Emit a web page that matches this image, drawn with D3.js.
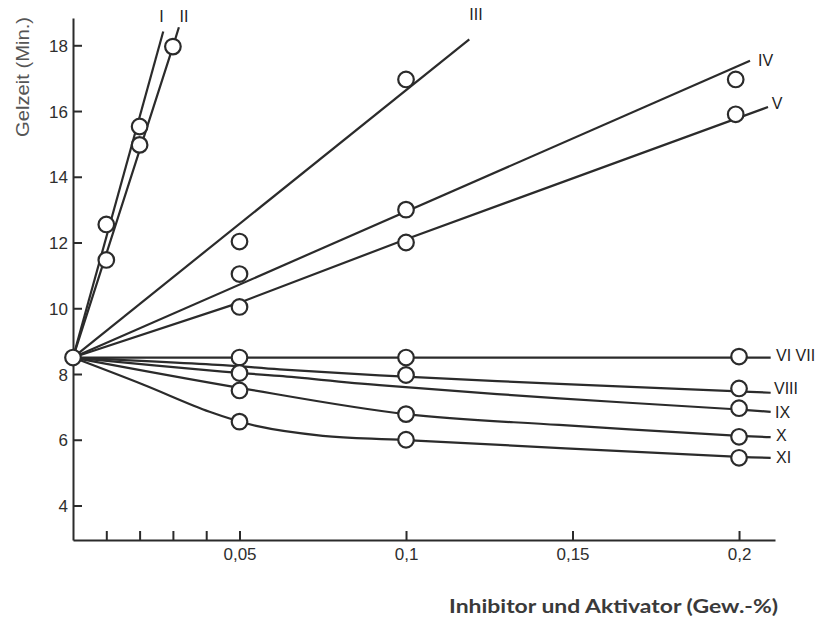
<!DOCTYPE html>
<html>
<head>
<meta charset="utf-8">
<script src="https://cdn.jsdelivr.net/npm/d3@7"></script>
<style>
  html, body { margin: 0; padding: 0; background: #fff; }
  svg { display: block; }
  .tick text { font-family: "Liberation Sans", Arial, sans-serif; font-size: 17px; fill: #2e2e2e; }
  .roman { font-family: "Liberation Sans", Arial, sans-serif; font-size: 16px; fill: #1e1e1e; }
</style>
</head>
<body>
<div id="chart"></div>
<script>
// axis extents (the drawn axis lines run a bit beyond the last ticks)
const xAxisExtent = [0, 0.2108];
const yAxisExtent = [2.95, 18.83];
const xTickValues = [0.01, 0.02, 0.03, 0.04, 0.05, 0.1, 0.15, 0.2];
const xLabelValues = [0.05, 0.1, 0.15, 0.2];
const yTickValues = [4, 6, 8, 10, 12, 14, 16, 18];

// measured gel times (circles)
const points = [
  [0, 8.5],
  [0.01, 12.55], [0.01, 11.47], [0.02, 15.53], [0.02, 14.97], [0.03, 17.96],
  [0.05, 12.03], [0.05, 11.04], [0.05, 10.04], [0.05, 8.5], [0.05, 8.03], [0.05, 7.5], [0.05, 6.55],
  [0.1, 16.96], [0.1, 13.0], [0.1, 12.0], [0.1, 8.5], [0.1, 7.97], [0.1, 6.78], [0.1, 6.0],
  [0.199, 16.96], [0.199, 15.9], [0.2, 8.53], [0.2, 7.56], [0.2, 6.96], [0.2, 6.09], [0.2, 5.45]
];

// drawn curves
const curveI = [[0, 8.5], [0.0271, 18.42]];
const curveII = [[0, 8.5], [0.03, 17.96], [0.0318, 18.55]];
const curveIII = [[0, 8.5], [0.119, 18.18]];
const curveIV = [[0, 8.5], [0.2033, 17.53]];
const curveV = [[0, 8.5], [0.05, 10.17], [0.1, 12.1], [0.2087, 16.12]];
const curveVI = [[0, 8.5], [0.2095, 8.5]];
const curveVIII = [[0, 8.5], [0.045, 8.27], [0.062, 8.14], [0.092, 7.96], [0.146, 7.7], [0.2, 7.47], [0.2095, 7.43]];
const curveIX = [[0, 8.5], [0.045, 8.07], [0.062, 7.94], [0.092, 7.66], [0.146, 7.26], [0.2, 6.92], [0.2095, 6.85]];
const curveX = [[0, 8.5], [0.05, 7.58], [0.1, 6.78], [0.146, 6.45], [0.2, 6.12], [0.2095, 6.08]];
const curveXI = [[0, 8.5], [0.021, 7.68], [0.041, 6.85], [0.055, 6.42], [0.075, 6.12],
                 [0.1, 5.99], [0.2, 5.48], [0.2095, 5.45]];

const straightCurves = [curveI, curveII, curveIII, curveIV, curveV, curveVI];
const bentCurves = [curveVIII, curveIX, curveX, curveXI];

// series labels: text, anchor point, text-anchor
const seriesLabels = [
  ['I', [0.0266, 18.89], 'middle'],
  ['II', [0.0333, 18.89], 'middle'],
  ['III', [0.121, 18.94], 'middle'],
  ['IV', [0.2057, 17.56], 'start'],
  ['V', [0.2098, 16.25], 'start'],
  ['VI VII', [0.2111, 8.58], 'start'],
  ['VIII', [0.2105, 7.57], 'start'],
  ['IX', [0.2108, 6.85], 'start'],
  ['X', [0.2111, 6.14], 'start'],
  ['XI', [0.2111, 5.48], 'start']
];

const width = 831, height = 618;
const ink = '#2b2b2b';

const svg = d3.select('#chart').append('svg')
  .attr('width', width)
  .attr('height', height);

const x = d3.scaleLinear().domain(xAxisExtent).range([73, 775]);
const y = d3.scaleLinear().domain(yAxisExtent).range([540, 18]);

// axes, ticks pointing inward
const xAxis = d3.axisBottom(x)
  .tickValues(xTickValues)
  .tickSize(-9)
  .tickSizeOuter(0)
  .tickPadding(8)
  .tickFormat(d => xLabelValues.includes(d) ? String(d).replace('.', ',') : '');

const yAxis = d3.axisLeft(y)
  .tickValues(yTickValues)
  .tickSize(-9)
  .tickSizeOuter(0)
  .tickPadding(5)
  .tickFormat(d => String(d));

const gx = svg.append('g').attr('transform', `translate(0,${y(yAxisExtent[0])})`).call(xAxis);
const gy = svg.append('g').attr('transform', `translate(${x(0)},0)`).call(yAxis);
[gx, gy].forEach(g => {
  g.select('.domain').attr('stroke', ink).attr('stroke-width', 2);
  g.selectAll('.tick line').attr('stroke', ink).attr('stroke-width', 2);
});
gy.selectAll('.tick text').attr('dy', '0.36em');

// axis titles
svg.append('text')
  .attr('transform', 'rotate(-90)')
  .attr('x', -77)
  .attr('y', 29)
  .attr('text-anchor', 'middle')
  .attr('font-family', '"Liberation Sans", Arial, sans-serif')
  .attr('font-size', 18)
  .attr('fill', '#555')
  .attr('textLength', 120)
  .attr('lengthAdjust', 'spacingAndGlyphs')
  .text('Gelzeit (Min.)');

svg.append('text')
  .attr('x', 449)
  .attr('y', 613)
  .attr('font-family', 'Lato, "Open Sans", sans-serif')
  .attr('font-weight', 700)
  .attr('font-size', 18)
  .attr('fill', '#3a3a3a')
  .attr('textLength', 329)
  .attr('lengthAdjust', 'spacingAndGlyphs')
  .text('Inhibitor und Aktivator (Gew.-%)');

// curves
const straight = d3.line().x(d => x(d[0])).y(d => y(d[1]));
const smooth = d3.line().x(d => x(d[0])).y(d => y(d[1])).curve(d3.curveCatmullRom.alpha(0.5));

svg.append('g').selectAll('path.straight')
  .data(straightCurves)
  .join('path')
  .attr('class', 'straight')
  .attr('d', straight)
  .attr('fill', 'none')
  .attr('stroke', ink)
  .attr('stroke-width', 2.2);

svg.append('g').selectAll('path.bent')
  .data(bentCurves)
  .join('path')
  .attr('class', 'bent')
  .attr('d', smooth)
  .attr('fill', 'none')
  .attr('stroke', ink)
  .attr('stroke-width', 2.2);

// measurement circles
svg.append('g').selectAll('circle')
  .data(points)
  .join('circle')
  .attr('cx', d => x(d[0]))
  .attr('cy', d => y(d[1]))
  .attr('r', 7.8)
  .attr('fill', '#fff')
  .attr('stroke', ink)
  .attr('stroke-width', 2.2);

// series labels
svg.append('g').selectAll('text')
  .data(seriesLabels)
  .join('text')
  .attr('class', 'roman')
  .attr('x', d => x(d[1][0]))
  .attr('y', d => y(d[1][1]))
  .attr('dy', '0.36em')
  .attr('text-anchor', d => d[2])
  .text(d => d[0]);
</script>
</body>
</html>
